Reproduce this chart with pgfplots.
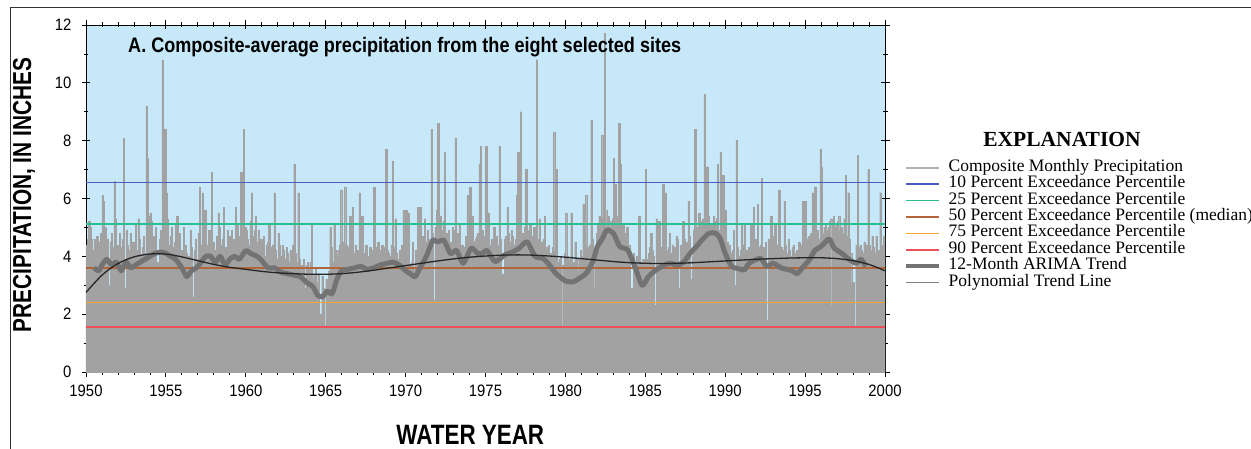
\documentclass[border=0pt]{standalone}
\usepackage{fontspec}
\setmainfont{Liberation Serif}
\newfontfamily\condsans[FakeStretch=0.8]{Liberation Sans}
\newfontfamily\titlesans[FakeStretch=0.86]{Liberation Sans}
\newfontfamily\ticksans[FakeStretch=0.9]{Liberation Sans}
\usepackage{pgfplots}
\usepackage{pgfplotstable}
\pgfplotsset{compat=1.18}
\definecolor{bgblue}{HTML}{C6E8F8}
\definecolor{bargray}{HTML}{A2A2A2}
\definecolor{arimagray}{HTML}{737373}
\definecolor{pblue}{HTML}{4A5CC0}
\definecolor{pgreen}{HTML}{2DBE8E}
\definecolor{pbrown}{HTML}{B5653A}
\definecolor{porange}{HTML}{F6A531}
\definecolor{pred}{HTML}{EE5058}

% Monthly composite precipitation, 1950-1999 (12 values per line), last value repeated to close 2000
\pgfplotstableread[row sep=\\]{
y\\
4.4\\4.6\\5.2\\5.0\\4.6\\4.2\\4.6\\2.7\\4.7\\4.5\\4.3\\4.8\\
6.1\\5.9\\5.0\\4.6\\4.6\\3.0\\4.5\\4.8\\4.3\\6.6\\5.3\\4.4\\
4.0\\4.8\\4.3\\4.6\\8.1\\2.9\\4.9\\4.4\\4.2\\4.8\\4.1\\4.5\\
4.4\\5.1\\4.2\\5.3\\4.6\\4.0\\4.3\\4.7\\4.1\\9.2\\7.4\\5.4\\
5.5\\5.2\\4.7\\4.3\\5.0\\3.8\\2.0\\4.6\\4.9\\10.8\\7.3\\8.4\\
6.2\\5.3\\4.4\\4.7\\5.0\\4.3\\4.5\\5.1\\5.4\\4.0\\4.8\\4.2\\
2.9\\5.0\\4.4\\4.1\\2.8\\4.0\\4.9\\4.3\\2.6\\4.2\\4.6\\3.9\\
4.8\\6.4\\4.4\\6.2\\4.6\\5.6\\4.1\\4.4\\4.9\\4.3\\6.9\\4.5\\
4.2\\2.3\\4.7\\5.5\\5.0\\4.4\\4.6\\5.7\\4.3\\4.1\\4.9\\4.7\\
4.4\\4.9\\4.6\\4.3\\5.7\\5.1\\3.2\\4.7\\6.9\\4.6\\8.4\\5.0\\
4.9\\4.6\\4.4\\5.2\\6.2\\4.7\\4.9\\5.4\\4.5\\4.9\\4.3\\4.6\\
4.2\\4.7\\4.0\\4.4\\4.5\\5.1\\4.3\\4.1\\4.4\\6.2\\4.2\\3.9\\
4.8\\4.4\\4.0\\4.4\\4.2\\3.9\\4.3\\4.1\\3.8\\4.2\\4.0\\4.4\\
7.2\\4.1\\3.8\\6.2\\3.9\\3.7\\3.5\\3.9\\2.9\\3.7\\3.8\\3.6\\
3.8\\5.1\\3.4\\3.2\\3.6\\3.1\\3.4\\1.6\\2.0\\3.3\\2.9\\1.6\\
3.2\\2.7\\3.5\\5.0\\4.3\\3.8\\5.1\\3.7\\4.2\\4.0\\4.4\\6.3\\
4.5\\4.2\\6.4\\4.4\\4.3\\4.0\\5.4\\3.9\\5.7\\4.1\\4.4\\3.8\\
4.2\\6.2\\4.3\\5.4\\4.1\\3.9\\4.4\\4.0\\2.9\\4.3\\4.1\\4.2\\
6.4\\4.3\\3.9\\4.5\\4.2\\4.1\\4.4\\4.0\\4.3\\7.7\\4.2\\4.1\\
4.0\\4.4\\7.3\\4.3\\5.3\\4.1\\3.9\\4.2\\2.8\\4.4\\5.6\\4.3\\
5.6\\3.9\\5.5\\3.7\\3.8\\4.5\\3.6\\4.2\\4.0\\5.7\\4.4\\5.7\\
4.7\\4.1\\5.3\\4.5\\4.9\\4.6\\4.4\\8.4\\4.8\\2.5\\5.0\\5.6\\
8.6\\4.6\\5.4\\4.9\\5.2\\7.6\\4.8\\4.7\\4.9\\4.5\\2.9\\5.0\\
4.9\\8.1\\4.6\\4.8\\5.1\\4.4\\4.4\\3.3\\4.3\\4.7\\6.1\\4.6\\
6.4\\4.8\\5.4\\4.5\\4.6\\4.7\\4.8\\7.2\\7.8\\4.9\\4.7\\4.5\\
7.8\\4.7\\5.5\\4.4\\4.6\\4.5\\5.0\\4.3\\4.7\\4.4\\7.8\\4.6\\
3.4\\2.6\\4.6\\4.7\\5.7\\4.8\\4.5\\4.9\\4.7\\4.4\\4.6\\6.1\\
7.6\\4.7\\9.0\\4.8\\4.7\\5.0\\7.0\\4.9\\3.5\\5.1\\4.7\\4.6\\
5.0\\4.7\\10.8\\4.6\\5.3\\4.4\\4.5\\4.6\\5.4\\4.3\\4.2\\4.4\\
4.1\\4.0\\4.3\\8.3\\4.2\\7.0\\3.8\\3.9\\4.0\\3.7\\1.5\\4.1\\
5.5\\4.0\\3.8\\3.9\\5.5\\3.6\\3.8\\4.5\\3.7\\3.9\\3.5\\4.2\\
4.0\\5.8\\4.1\\6.1\\4.3\\4.1\\4.4\\8.7\\4.6\\4.2\\2.9\\4.8\\
5.1\\5.4\\4.9\\8.2\\5.3\\11.7\\5.6\\4.7\\5.4\\5.2\\5.0\\5.3\\
7.4\\6.5\\5.4\\5.2\\8.6\\7.2\\4.9\\5.1\\4.7\\4.8\\5.0\\2.9\\
4.4\\2.9\\2.1\\4.1\\3.8\\4.0\\3.9\\5.4\\3.8\\3.6\\3.9\\3.4\\
7.0\\3.9\\4.1\\4.3\\4.8\\4.2\\4.0\\2.3\\5.3\\4.4\\5.2\\4.3\\
4.1\\6.5\\4.4\\6.2\\4.2\\4.3\\4.8\\4.1\\4.4\\2.9\\4.3\\4.7\\
4.6\\2.9\\4.4\\4.2\\5.2\\4.6\\4.3\\4.5\\5.9\\4.7\\3.2\\4.0\\
4.9\\8.4\\5.0\\4.8\\5.5\\5.1\\5.2\\5.3\\9.6\\5.1\\7.1\\5.4\\
4.0\\5.1\\5.0\\5.4\\5.2\\5.3\\7.2\\4.9\\7.6\\4.7\\6.8\\4.6\\
5.6\\4.5\\4.3\\4.4\\4.1\\4.2\\4.9\\3.0\\8.0\\4.3\\4.0\\4.2\\
5.1\\4.4\\5.1\\4.1\\4.2\\4.3\\4.1\\5.1\\4.4\\5.7\\4.6\\4.4\\
5.8\\4.3\\4.4\\6.7\\4.3\\4.2\\4.5\\1.8\\4.6\\4.4\\5.4\\4.7\\
4.3\\5.1\\4.4\\4.2\\6.3\\4.1\\4.3\\4.2\\5.9\\4.4\\4.1\\4.6\\
4.2\\4.0\\4.3\\4.4\\4.1\\4.2\\2.9\\4.5\\4.3\\4.4\\5.9\\4.6\\
5.9\\4.6\\4.7\\4.5\\4.8\\6.2\\4.6\\6.4\\4.7\\4.9\\4.6\\7.7\\
7.1\\4.8\\5.0\\5.1\\4.9\\5.0\\5.2\\5.3\\2.3\\5.4\\5.0\\5.1\\
5.2\\5.4\\4.9\\5.0\\4.8\\5.3\\6.8\\4.7\\6.2\\4.6\\4.1\\3.1\\
3.1\\1.6\\4.4\\7.5\\4.3\\4.4\\4.2\\4.1\\4.5\\4.3\\4.4\\7.0\\
4.4\\4.2\\4.7\\4.3\\4.1\\4.7\\4.0\\4.2\\6.2\\4.4\\4.3\\4.7\\
4.7\\
}\precip

% 12-month ARIMA trend
\pgfplotstableread{
x y
1950.5 3.6
1950.8 3.5
1951.0 3.7
1951.3 3.9
1951.6 3.7
1951.9 3.8
1952.2 3.5
1952.5 3.8
1952.8 3.6
1953.1 3.7
1953.4 3.8
1953.7 3.9
1954.0 4.0
1954.3 4.1
1954.7 4.15
1955.0 4.1
1955.3 4.0
1955.6 3.9
1956.0 3.6
1956.3 3.3
1956.6 3.5
1956.9 3.6
1957.2 3.8
1957.5 4.0
1957.8 4.0
1958.1 3.8
1958.4 4.0
1958.7 3.7
1959.0 3.9
1959.3 4.0
1959.6 3.9
1960.0 4.2
1960.3 4.1
1960.7 4.0
1961.0 3.85
1961.4 3.6
1961.8 3.6
1962.2 3.45
1962.6 3.4
1963.0 3.35
1963.4 3.3
1963.8 3.1
1964.2 2.95
1964.5 2.65
1964.8 2.6
1965.1 2.8
1965.4 2.7
1965.7 3.2
1966.0 3.5
1966.4 3.55
1966.8 3.6
1967.2 3.65
1967.6 3.55
1968.0 3.6
1968.4 3.7
1968.8 3.75
1969.2 3.8
1969.6 3.7
1970.0 3.5
1970.3 3.4
1970.6 3.3
1971.0 3.7
1971.3 4.0
1971.7 4.55
1972.0 4.5
1972.4 4.55
1972.8 4.1
1973.2 4.2
1973.6 3.76
1974.1 4.28
1974.5 4.1
1974.8 4.1
1975.1 4.2
1975.6 3.82
1976.2 4.05
1976.7 4.15
1977.1 4.28
1977.6 4.5
1978.1 4.0
1978.6 3.93
1979.0 3.7
1979.4 3.41
1980.0 3.15
1980.5 3.12
1980.9 3.25
1981.3 3.41
1981.7 3.8
1982.0 4.34
1982.3 4.6
1982.6 4.91
1983.0 4.8
1983.4 4.34
1983.9 4.22
1984.35 3.64
1984.8 3.0
1985.2 3.3
1985.6 3.5
1986.0 3.64
1986.5 3.76
1987.0 3.7
1987.4 3.8
1987.8 4.1
1988.2 4.34
1988.6 4.6
1989.0 4.8
1989.4 4.8
1989.7 4.6
1990.0 4.1
1990.4 3.65
1990.8 3.58
1991.2 3.53
1991.5 3.76
1992.2 3.93
1992.6 3.65
1993.0 3.76
1993.5 3.6
1994.2 3.5
1994.5 3.4
1994.9 3.65
1995.3 3.9
1995.6 4.2
1996.0 4.34
1996.5 4.6
1996.8 4.3
1997.3 4.1
1997.8 3.88
1998.2 3.76
1998.5 3.9
1998.8 3.65
}\arima

% Polynomial trend line
\pgfplotstableread{
x y
1950 2.75
1951 3.35
1952 3.75
1953 3.98
1954 4.08
1955 4.08
1956 3.98
1957 3.85
1958 3.72
1959 3.62
1960 3.55
1961 3.48
1962 3.43
1963 3.40
1964 3.38
1965 3.38
1966 3.40
1967 3.45
1968 3.52
1969 3.60
1970 3.68
1971 3.76
1972 3.84
1973 3.91
1974 3.97
1975 4.01
1976 4.04
1977 4.05
1978 4.04
1979 4.01
1980 3.97
1981 3.92
1982 3.87
1983 3.82
1984 3.78
1985 3.76
1986 3.75
1987 3.76
1988 3.78
1989 3.81
1990 3.84
1991 3.87
1992 3.90
1993 3.92
1994 3.94
1995 3.95
1996 3.95
1997 3.92
1998 3.85
1999 3.72
2000 3.50
}\poly

\begin{document}
\begin{tikzpicture}
\begin{axis}[
  at={(0bp,0bp)}, anchor=south west,
  scale only axis, width=799bp, height=347bp,
  xmin=1950, xmax=2000, ymin=0, ymax=12,
  axis background/.style={fill=bgblue},
  axis line style={black, line width=0.8bp},
  xtick={1950,1955,...,2000}, minor x tick num=4,
  ytick={0,2,...,12}, minor y tick num=1,
  tick align=center, major tick length=9bp, minor tick length=5bp,
  tick style={black, line width=0.8bp},
  /pgf/number format/assume math mode=true,
  /pgf/number format/1000 sep={},
  ticklabel style={font=\ticksans\fontsize{16.5bp}{18bp}\selectfont},
  xticklabel style={anchor=north, inner sep=0pt},
  xticklabel shift=8bp,
  yticklabel style={anchor=east, inner sep=0pt},
  yticklabel shift=10bp,
  xlabel={WATER YEAR},
  ylabel={PRECIPITATION, IN INCHES},
  every axis x label/.style={at={(axis description cs:0.481,-0.182)}, anchor=center, font=\condsans\bfseries\fontsize{28bp}{30bp}\selectfont},
  every axis y label/.style={at={(axis description cs:-0.0776,0.51)}, rotate=90, anchor=center, font=\condsans\bfseries\fontsize{26bp}{28bp}\selectfont},
  clip=true,
  legend image code/.code={\draw[#1] (0bp,0bp) -- (33bp,0bp);},
  legend style={at={(axis description cs:1.024,0.612)}, anchor=north west,
    draw=none, fill=none, inner sep=0pt, outer sep=0pt,
    font=\fontsize{17.5bp}{18bp}\selectfont,
    nodes={inner sep=0pt, text height=11.6bp, text depth=4.8bp},
    /tikz/every odd column/.append style={column sep=7bp}},
  legend cell align=left,
]
\addplot[const plot, fill=bargray, draw=bargray, line width=0.35bp, forget plot]
  table[x expr={1950+\coordindex/12}, y=y] {\precip} \closedcycle;
\addplot[pblue, line width=1.5bp, forget plot] coordinates {(1950,6.55) (2000,6.55)};
\addplot[pgreen, line width=1.5bp, forget plot] coordinates {(1950,5.12) (2000,5.12)};
\addplot[pbrown, line width=1.5bp, forget plot] coordinates {(1950,3.60) (2000,3.60)};
\addplot[porange, line width=1.6bp, forget plot] coordinates {(1950,2.40) (2000,2.40)};
\addplot[pred, line width=1.5bp, forget plot] coordinates {(1950,1.56) (2000,1.56)};
\addplot[arimagray, line width=5bp, line join=round, smooth, tension=0.4, forget plot] table[x=x, y=y] {\arima};
\addplot[black!85, line width=1.3bp, smooth, forget plot] table[x=x, y=y] {\poly};

\addlegendimage{bargray!85!white, line width=2bp}
\addlegendentry{Composite Monthly Precipitation}
\addlegendimage{pblue, line width=1.6bp}
\addlegendentry{10 Percent Exceedance Percentile}
\addlegendimage{pgreen, line width=1.6bp}
\addlegendentry{25 Percent Exceedance Percentile}
\addlegendimage{pbrown, line width=1.6bp}
\addlegendentry{50 Percent Exceedance Percentile (median)}
\addlegendimage{porange, line width=1.8bp}
\addlegendentry{75 Percent Exceedance Percentile}
\addlegendimage{pred, line width=1.6bp}
\addlegendentry{90 Percent Exceedance Percentile}
\addlegendimage{arimagray, line width=4.5bp}
\addlegendentry{12-Month ARIMA Trend}
\addlegendimage{gray, line width=1.5bp}
\addlegendentry{Polynomial Trend Line}

\node[anchor=base west, inner sep=0pt, font=\titlesans\bfseries\fontsize{21bp}{23bp}\selectfont]
  at (axis description cs:0.0526,0.922) {A. Composite-average precipitation from the eight selected sites};
\end{axis}
\node[anchor=base, inner sep=0pt, font=\bfseries\fontsize{21.5bp}{23bp}\selectfont] at (976bp,225bp) {EXPLANATION};
\draw[black!80, line width=0.9bp] (-76bp,-77bp) -- (-76bp,365bp) -- (1165bp,365bp);
\pgfresetboundingbox
\path[use as bounding box] (-86bp,-77bp) rectangle (1165bp,372bp);
\end{tikzpicture}
\end{document}
